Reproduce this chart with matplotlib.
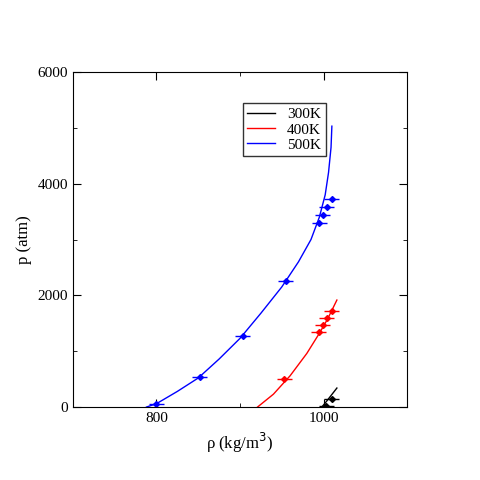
import matplotlib
matplotlib.use("Agg")
import matplotlib.pyplot as plt

plt.rcParams['font.family'] = ['Liberation Serif']

# fitted curves
l300_x = [998, 1004, 1010, 1016]
l300_p = [0, 110, 225, 340]
l400_x = [921, 940, 960, 980, 995, 1005, 1016]
l400_p = [0, 230, 560, 960, 1320, 1580, 1916]
l500_x = [788, 800, 825, 850, 875, 900, 925, 950, 970, 985, 995, 1002, 1006, 1009, 1010]
l500_p = [0, 60, 280, 520, 860, 1230, 1680, 2150, 2600, 3000, 3400, 3800, 4200, 4650, 5030]

# simulation points
d300_x = [1003, 1010]
d300_p = [23, 143]
d400_x = [953, 994, 999, 1004, 1010]
d400_p = [496, 1349, 1474, 1594, 1725]
d500_x = [800, 852, 903, 955, 995, 999, 1004, 1010]
d500_p = [54, 537, 1272, 2257, 3295, 3439, 3582, 3725]
xerr = 9

fig = plt.figure(figsize=(4.8, 4.8), dpi=100)
ax = fig.add_axes([0.152, 0.152, 0.696, 0.698])
for lx, lp, dx, dp, c, lab in [(l300_x, l300_p, d300_x, d300_p, 'black', '300K'),
                               (l400_x, l400_p, d400_x, d400_p, 'red', '400K'),
                               (l500_x, l500_p, d500_x, d500_p, 'blue', '500K')]:
    ax.plot(lx, lp, color=c, lw=1, label=lab)
    ax.errorbar(dx, dp, xerr=xerr, fmt='D', color=c, ms=3, elinewidth=1, capsize=0)

ax.set_xlim(700, 1100)
ax.set_ylim(0, 6000)
ax.set_xticks([800, 1000])
ax.set_yticks([0, 2000, 4000, 6000])
ax.set_xticks([900], minor=True)
ax.set_yticks([1000, 3000, 5000], minor=True)
ax.tick_params(direction='in', which='both', top=True, right=True, labelsize=11)
ax.tick_params(which='major', length=6)
ax.tick_params(which='minor', length=3)
ax.set_xlabel(r'ρ (kg/m$^3$)', fontsize=12)
ax.set_ylabel('p (atm)', fontsize=12)
leg = ax.legend(loc='upper left', bbox_to_anchor=(0.485, 0.93), fancybox=False,
                edgecolor='black', fontsize=11, handlelength=1.8, borderpad=0.3,
                labelspacing=0.1)
leg.get_frame().set_linewidth(1)
fig.savefig('out.png', dpi=100)
